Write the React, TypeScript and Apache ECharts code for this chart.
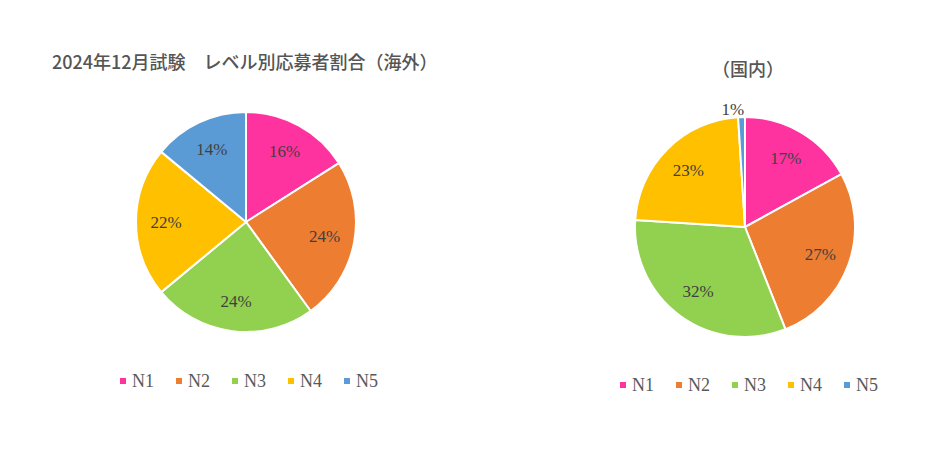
import { useEffect, useRef } from 'react';
import * as echarts from 'echarts';

const levels = ['N1', 'N2', 'N3', 'N4', 'N5'];
const overseasShare = [16, 24, 24, 22, 14];
const domesticShare = [17, 27, 32, 23, 1];
const levelColors = ['#FF33A0', '#ED7D31', '#92D050', '#FFC000', '#5B9BD5'];

const mainTitle = '2024年12月試験　レベル別応募者割合（海外）';
const domesticTitle = '（国内）';

const serif = '"Liberation Serif", "DejaVu Serif", serif';
const cjk = '"Noto Sans CJK JP", "Noto Sans", sans-serif';

const toData = (values: number[]) => levels.map((name, i) => ({ name, value: values[i] }));

// visible pie, no labels
const piePart = (center: [number, number], values: number[]) => ({
  type: 'pie',
  center,
  radius: [0, 110],
  startAngle: 90,
  clockwise: true,
  avoidLabelOverlap: false,
  label: { show: false },
  labelLine: { show: false },
  itemStyle: { borderColor: '#fff', borderWidth: 2 },
  emphasis: { disabled: true },
  data: toData(values),
});

// transparent ring so the inside labels sit further out
const labelPart = (center: [number, number], values: number[], outsideIdx: number[] = []) => ({
  type: 'pie',
  center,
  radius: [44, 110],
  startAngle: 90,
  clockwise: true,
  silent: true,
  avoidLabelOverlap: false,
  itemStyle: { color: 'rgba(0,0,0,0)', borderWidth: 0 },
  label: {
    show: true,
    position: 'inside',
    formatter: '{c}%',
    color: '#404040',
    fontFamily: serif,
    fontSize: 17,
  },
  labelLine: { show: false },
  emphasis: { disabled: true },
  data: toData(values).map((d, i) =>
    outsideIdx.includes(i)
      ? {
          ...d,
          label: { position: 'outside' },
          labelLine: { show: false, length: 8, length2: -8 },
        }
      : d
  ),
});

const legendPart = (left: number, top: number) => ({
  data: levels,
  left,
  top,
  orient: 'horizontal',
  icon: 'rect',
  itemWidth: 8,
  itemHeight: 8,
  itemGap: 20,
  textStyle: { fontFamily: serif, fontSize: 18, color: '#595959' },
});

const App = () => {
  const divRef = useRef<HTMLDivElement | null>(null);

  useEffect(() => {
    if (!divRef.current) return;
    const chart = echarts.init(divRef.current, null, { renderer: 'svg' });

    chart.setOption({
      animation: false,
      backgroundColor: '#fff',
      color: levelColors,
      graphic: [
        {
          type: 'text',
          x: 52,
          y: 61,
          style: {
            text: mainTitle,
            fontFamily: cjk,
            fontSize: 18,
            fontWeight: 500,
            fill: '#555555',
            align: 'left',
            verticalAlign: 'middle',
          },
        },
        {
          type: 'text',
          x: 748,
          y: 68,
          style: {
            text: domesticTitle,
            fontFamily: cjk,
            fontSize: 18,
            fontWeight: 500,
            fill: '#555555',
            align: 'center',
            verticalAlign: 'middle',
          },
        },
      ],
      legend: [legendPart(113, 367), legendPart(613, 371)],
      series: [
        piePart([246, 222], overseasShare),
        piePart([745, 227], domesticShare),
        labelPart([246, 222], overseasShare),
        labelPart([745, 227], domesticShare, [4]),
      ],
    });

    return () => chart.dispose();
  }, []);

  return (
    <div
      ref={divRef}
      style={{ position: 'absolute', left: 0, top: 0, width: 950, height: 476 }}
    />
  );
};

export default App;
